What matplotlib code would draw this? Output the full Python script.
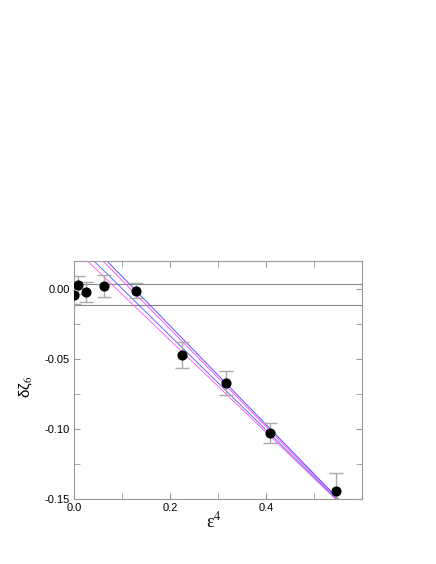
import matplotlib
matplotlib.use('Agg')
import matplotlib.pyplot as plt
from matplotlib.ticker import MultipleLocator, FormatStrFormatter, FuncFormatter

plt.rcParams['font.family'] = ['Liberation Sans', 'DejaVu Sans']
plt.rcParams['mathtext.fontset'] = 'stix'

# data
eps4 = [0.0, 0.009, 0.026, 0.063, 0.129, 0.226, 0.316, 0.409, 0.545]
dzeta = [-0.0041, 0.0030, -0.0021, 0.0019, -0.0012, -0.0470, -0.0670, -0.1030, -0.1441]
dzeta_err = [0.0066, 0.0064, 0.0072, 0.0078, 0.0052, 0.0093, 0.0085, 0.0073, 0.0128]

# fitted lines: intercept, slope
fit_intercepts = [0.0292, 0.0340, 0.0410, 0.0443]
fit_slopes = [-0.3288, -0.3366, -0.3480, -0.3527]
fit_colors = ['#ff66ff', '#6666ff', '#ff55ff', '#5555ff']

# horizontal band
band = [0.0036, -0.0114]

fig = plt.figure(figsize=(4.36, 5.64), dpi=100)
ax = fig.add_axes([0.1697, 0.1152, 0.6606, 0.4220])

for y in band:
    ax.axhline(y, color='#888888', lw=0.8, zorder=1)

xs = [0.0, 0.6]
for a, b, c in zip(fit_intercepts, fit_slopes, fit_colors):
    ax.plot(xs, [a + b * x for x in xs], color=c, lw=0.7, zorder=2)

ax.errorbar(eps4, dzeta, yerr=dzeta_err, fmt='o', color='black', ms=6.3,
            ecolor='#aaaaaa', elinewidth=1.0, capsize=5, capthick=1.0, zorder=3)

ax.set_xlim(0.0, 0.6)
ax.set_ylim(-0.15, 0.02)
ax.xaxis.set_major_locator(MultipleLocator(0.2))
ax.xaxis.set_minor_locator(MultipleLocator(0.1))
ax.yaxis.set_major_locator(MultipleLocator(0.05))
ax.yaxis.set_minor_locator(MultipleLocator(0.025))
ax.xaxis.set_major_formatter(FuncFormatter(lambda v, p: '' if v > 0.55 else '%.1f' % v))
ax.yaxis.set_major_formatter(FormatStrFormatter('%.2f'))

for s in ax.spines.values():
    s.set_color('#999999')
    s.set_linewidth(0.8)
ax.tick_params(which='both', direction='in', top=True, right=True,
               color='#999999', labelsize=8, pad=3)
ax.tick_params(which='major', length=4)
ax.tick_params(which='minor', length=4)

ax.set_xlabel('ε$^{4}$', fontsize=13, family=['Liberation Serif', 'DejaVu Serif'])
ax.set_ylabel('δζ$_{6}$', fontsize=11)
ax.xaxis.set_label_coords(0.486, -0.05)
ax.yaxis.set_label_coords(-0.14, 0.47)

fig.savefig('out.png', dpi=100, facecolor='white')
